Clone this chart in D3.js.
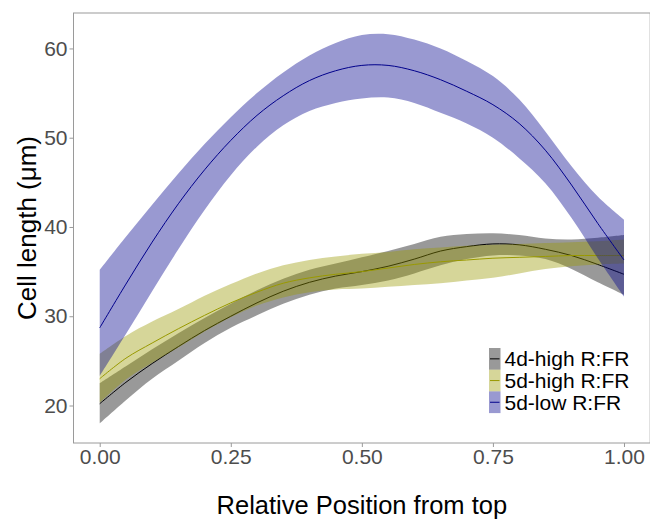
<!DOCTYPE html>
<html><head><meta charset="utf-8">
<script src="https://cdn.jsdelivr.net/npm/d3@7"></script>
<style>body{margin:0;background:#fff}svg{display:block}</style>
</head><body><svg id="c" width="650" height="519"></svg>
<script>
// Relative position along the organ (x)
const positions = [0,0.05,0.10,0.15,0.20,0.25,0.30,0.35,0.40,0.45,0.50,0.55,0.60,0.65,0.70,0.75,0.80,0.85,0.90,0.95,1.00];
const seriesNames = ["4d-high R:FR","5d-high R:FR","5d-low R:FR"];

// 4d-high R:FR (black)
const mean4dHigh  = [20.2,22.6,24.7,26.6,28.4,30.0,31.5,32.8,33.8,34.5,35.0,35.6,36.4,37.3,37.8,38.1,38.0,37.5,36.8,35.8,34.7];
const upper4dHigh = [22.5,24.4,26.3,28.1,29.8,31.4,32.9,34.2,35.2,35.9,36.6,37.3,38.1,38.9,39.2,39.3,39.1,38.7,38.6,38.8,39.1];
const lower4dHigh = [18.0,20.6,23.0,25.0,27.0,28.7,30.1,31.4,32.4,33.1,33.5,34.0,34.8,35.7,36.4,36.8,36.8,36.4,35.3,33.8,32.4];

// 5d-high R:FR (olive)
const mean5dHigh  = [23.0,25.3,27.0,28.6,30.1,31.5,32.7,33.7,34.3,34.7,35.0,35.4,35.8,36.1,36.3,36.5,36.6,36.7,36.8,36.8,36.8];
const upper5dHigh = [25.8,27.8,29.4,30.8,32.3,33.6,34.8,35.7,36.3,36.7,37.0,37.2,37.5,37.7,37.9,38.0,38.1,38.2,38.3,38.4,38.6];
const lower5dHigh = [20.3,22.9,24.8,26.5,28.3,29.9,31.2,32.1,32.7,33.0,33.1,33.3,33.5,33.7,34.0,34.3,34.8,35.3,35.6,35.8,35.9];

// 5d-low R:FR (dark blue)
const mean5dLow  = [28.7,33.6,38.3,42.6,46.4,49.7,52.5,54.7,56.4,57.5,58.1,58.1,57.5,56.5,55.2,53.7,51.6,48.6,44.7,40.4,36.3];
const upper5dLow = [35.2,38.9,42.5,46.0,49.3,52.3,55.0,57.3,59.2,60.6,61.5,61.6,61.0,60.0,58.6,56.9,54.3,50.7,46.8,43.4,40.8];
const lower5dLow = [23.3,28.0,32.8,37.5,41.9,45.8,49.0,51.4,53.0,53.9,54.4,54.5,53.9,52.8,51.6,50.0,47.7,44.9,41.0,36.5,32.2];

const xTicks = [0,0.25,0.5,0.75,1];
const xTickLabels = ["0.00","0.25","0.50","0.75","1.00"];
const yTicks = [20,30,40,50,60];
const yTickLabels = ["20","30","40","50","60"];

const colors = ["#000000","#999900","#00008b"];

const series = [
  {name: seriesNames[0], mean: mean4dHigh, upper: upper4dHigh, lower: lower4dHigh, color: colors[0]},
  {name: seriesNames[1], mean: mean5dHigh, upper: upper5dHigh, lower: lower5dHigh, color: colors[1]},
  {name: seriesNames[2], mean: mean5dLow,  upper: upper5dLow,  lower: lower5dLow,  color: colors[2]}
];

const svg = d3.select("#c");
const font = "'Liberation Sans', Arial, sans-serif";
const L = 73.5, R = 650.2, T = 13, B = 443;

const x = d3.scaleLinear().domain([-0.05, 1.05]).range([L, R]);
const y = d3.scaleLinear().domain([15.8, 63.97]).range([B, T]);

const plot = svg.append("g");
const curve = d3.curveCatmullRom.alpha(0.5);

series.forEach(s => {
  const pts = positions.map((p, i) => ({p, m: s.mean[i], u: s.upper[i], l: s.lower[i]}));
  plot.append("path")
    .datum(pts)
    .attr("fill", s.color).attr("fill-opacity", 0.4).attr("stroke", "none")
    .attr("d", d3.area().x(d => x(d.p)).y0(d => y(d.l)).y1(d => y(d.u)).curve(curve));
  plot.append("path")
    .datum(pts)
    .attr("fill", "none").attr("stroke", s.color).attr("stroke-width", 1)
    .attr("d", d3.line().x(d => x(d.p)).y(d => y(d.m)).curve(curve));
});

// panel border
svg.append("rect")
  .attr("x", L).attr("y", T).attr("width", R - L).attr("height", B - T)
  .attr("fill", "none").attr("stroke", "#9a9a9a").attr("stroke-width", 1);

// axes
const yAxis = svg.append("g").attr("transform", `translate(${L},0)`)
  .call(d3.axisLeft(y).tickValues(yTicks).tickFormat((d, i) => yTickLabels[i]).tickSize(4).tickPadding(2));
const xAxis = svg.append("g").attr("transform", `translate(0,${B})`)
  .call(d3.axisBottom(x).tickValues(xTicks).tickFormat((d, i) => xTickLabels[i]).tickSize(4).tickPadding(2));
[yAxis, xAxis].forEach(a => {
  a.select(".domain").remove();
  a.selectAll(".tick line").attr("stroke", "#9a9a9a");
  a.selectAll(".tick text").attr("fill", "#4d4d4d").style("font-family", font).style("font-size", "21px");
});

// axis titles
svg.append("text")
  .attr("transform", `translate(36,${(T + B) / 2}) rotate(-90)`)
  .attr("text-anchor", "middle")
  .style("font-family", font).style("font-size", "26px").attr("fill", "#000")
  .text("Cell length (μm)");
svg.append("text")
  .attr("x", (L + R) / 2).attr("y", 513.5)
  .attr("text-anchor", "middle")
  .style("font-family", font).style("font-size", "25.5px").attr("fill", "#000")
  .text("Relative Position from top");

// legend
const lg = svg.append("g").attr("transform", "translate(489,348)");
const keyW = 11.5, keyH = 21.7;
series.forEach((s, i) => {
  const g = lg.append("g").attr("transform", `translate(0,${i * keyH})`);
  g.append("rect").attr("width", keyW).attr("height", keyH)
    .attr("fill", s.color).attr("fill-opacity", 0.4);
  g.append("line").attr("x1", 1).attr("x2", keyW - 1).attr("y1", keyH / 2).attr("y2", keyH / 2)
    .attr("stroke", s.color).attr("stroke-width", 1);
  g.append("text").attr("x", keyW + 4).attr("y", keyH / 2).attr("dy", "0.36em")
    .style("font-family", font).style("font-size", "21px").attr("fill", "#000")
    .text(s.name);
});
</script>
</body></html>
